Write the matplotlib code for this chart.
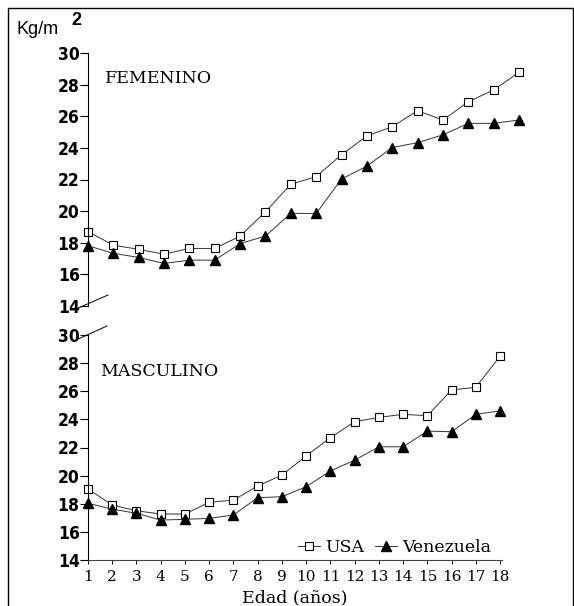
import matplotlib
matplotlib.use('Agg')
import matplotlib.pyplot as plt
from matplotlib.patches import Rectangle
from matplotlib.lines import Line2D

edad = list(range(1, 19))

# femenino
usa_f = [18.7, 17.85, 17.58, 17.28, 17.64, 17.64, 18.42, 19.96, 21.7, 22.18,
         23.57, 24.75, 25.34, 26.35, 25.76, 26.92, 27.66, 28.78]
ven_f = [17.81, 17.33, 17.07, 16.69, 16.9, 16.9, 17.95, 18.42, 19.86, 19.85,
         22.03, 22.85, 24.02, 24.33, 24.82, 25.55, 25.55, 25.76]

# masculino
usa_m = [19.05, 17.91, 17.5, 17.27, 17.27, 18.1, 18.26, 19.26, 20.04, 21.4,
         22.7, 23.83, 24.14, 24.36, 24.26, 26.09, 26.28, 28.5]
ven_m = [18.03, 17.62, 17.32, 16.84, 16.89, 16.96, 17.2, 18.43, 18.5, 19.21,
         20.33, 21.1, 22.05, 22.05, 23.17, 23.12, 24.36, 24.6]

yticks = [14, 16, 18, 20, 22, 24, 26, 28, 30]

W, H = 574, 606
fig = plt.figure(figsize=(W / 100, H / 100), dpi=100)

num_font = {'family': ['DejaVu Sans'], 'weight': 'bold', 'size': 12.5,
            'stretch': 'condensed'}
serif = ['DejaVu Serif']


def px_axes(x0, x1, y0, y1):
    return fig.add_axes([x0 / W, 1 - y1 / H, (x1 - x0) / W, (y1 - y0) / H])


def dibujar(ax, usa, ven):
    ax.plot(edad, usa, color='#333333', lw=0.7, marker='s', ms=5.5,
            mfc='white', mec='black', mew=0.8, clip_on=False, label='USA')
    ax.plot(edad, ven, color='#333333', lw=0.7, marker='^', ms=6.5,
            mfc='black', mec='black', clip_on=False, label='Venezuela')
    ax.set_ylim(14, 30)
    ax.set_yticks(yticks)
    ax.set_yticklabels([str(t) for t in yticks], fontdict=num_font)
    ax.tick_params(axis='y', direction='out', length=6, width=0.8, pad=0)
    for s in ['top', 'right']:
        ax.spines[s].set_visible(False)
    ax.spines['left'].set_linewidth(0.8)
    ax.patch.set_alpha(0)


# panel superior
ax1 = px_axes(88, 519, 53, 306)
dibujar(ax1, usa_f, ven_f)
ax1.set_xlim(1, 18)
ax1.spines['bottom'].set_visible(False)
ax1.set_xticks([])
ax1.text(0.04, 0.9, 'FEMENINO', transform=ax1.transAxes, fontsize=12.5,
         family=serif, va='center')

# panel inferior
ax2 = px_axes(88, 502, 335, 560)
dibujar(ax2, usa_m, ven_m)
ax2.set_xlim(1, 1 + 414 / 24.24)
ax2.set_xticks(edad)
ax2.set_xticklabels([str(e) for e in edad], family=serif, fontsize=11)
ax2.tick_params(axis='x', direction='out', length=3, width=0.7, pad=4)
ax2.spines['bottom'].set_linewidth(0.8)
ax2.spines['bottom'].set_color('#444444')
ax2.text(0.028, 0.84, 'MASCULINO', transform=ax2.transAxes, fontsize=12.5,
         family=serif, va='center')
ax2.set_xlabel('Edad (años)', family=serif, fontsize=12.5, labelpad=4)
leg = ax2.legend(loc='lower right', bbox_to_anchor=(1.0, -0.03), ncol=2,
                 frameon=False, prop={'family': serif, 'size': 12.5},
                 handlelength=1.3, handletextpad=0.3, columnspacing=0.6,
                 borderaxespad=0.2)

# marcas de corte del eje
fig.add_artist(Line2D([76 / W, 108 / W], [1 - 309 / H, 1 - 295 / H],
                      color='black', lw=0.7))
fig.add_artist(Line2D([76 / W, 107 / W], [1 - 340 / H, 1 - 326 / H],
                      color='black', lw=0.7))

# unidades
fig.text(17 / W, 1 - 34 / H, 'Kg/m', fontsize=13,
         family=['Liberation Sans', 'DejaVu Sans'])
fig.text(71 / W, 1 - 25 / H, '2', fontsize=13, weight='bold',
         family=['Liberation Sans', 'DejaVu Sans'])

# marco
fig.add_artist(Rectangle((8 / W, -0.01), (573 - 8) / W, 1 - 8 / H + 0.01,
                         fill=False, ec='black', lw=1.0,
                         transform=fig.transFigure))

fig.savefig('out.png', dpi=100)
